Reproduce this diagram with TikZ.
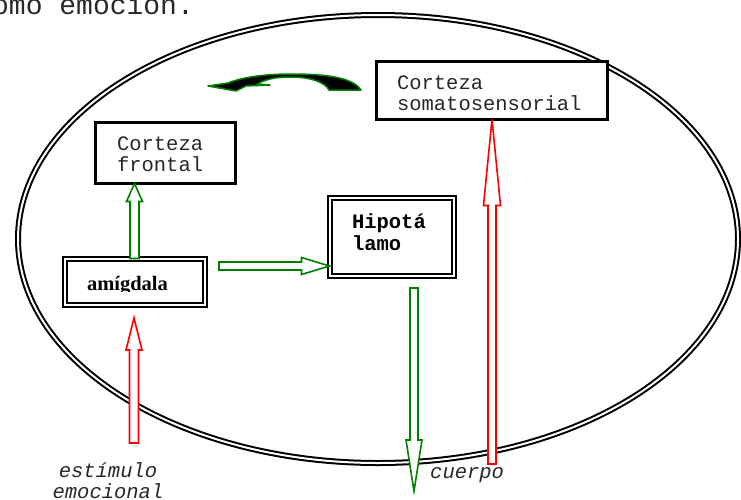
\documentclass[tikz,border=0pt]{standalone}
\usepackage{fontspec}
\setmainfont{Liberation Serif}
\setmonofont{Liberation Mono}
\usetikzlibrary{calc,shapes.geometric}

\definecolor{pathgreen}{RGB}{0,128,0}
\definecolor{pathred}{RGB}{255,0,0}
\definecolor{inkgray}{RGB}{40,40,40}

\tikzset{
  mono/.style={font=\ttfamily\fontsize{20.5}{21.5}\selectfont, text=inkgray},
  monobold/.style={font=\ttfamily\bfseries\fontsize{20.5}{22.5}\selectfont},
  monoit/.style={font=\ttfamily\itshape\fontsize{20.5}{21}\selectfont, text=inkgray},
  sbox/.style={rectangle, draw, line width=3pt, fill=white, outer sep=0pt,
    inner sep=0pt, align=left, mono},
  dbox/.style={rectangle, draw, line width=2pt, double=white, double distance=2pt,
    fill=white, outer sep=0pt, inner sep=0pt},
  garrow/.style={draw=pathgreen, fill=white, line width=1.6pt, line join=miter},
  rarrow/.style={draw=pathred, fill=white, line width=1.6pt, line join=miter},
  curvearrow/.style={draw=pathgreen, fill=black, line width=1.5pt, line join=round},
}

% hollow block arrow: #1 style, #2 tail, #3 tip, #4 shaft half width,
% #5 head half width, #6 head length
\newcommand\blockarrow[6]{%
  \path (#2) coordinate (ba-tail) (#3) coordinate (ba-tip);
  \path ($(ba-tip)!#6!(ba-tail)$) coordinate (ba-base);
  \draw[#1] ($(ba-tail)!#4!90:(ba-tip)$) -- ($(ba-base)!#4!90:(ba-tip)$)
    -- ($(ba-base)!#5!90:(ba-tip)$) -- (ba-tip)
    -- ($(ba-base)!#5!-90:(ba-tip)$) -- ($(ba-base)!#4!-90:(ba-tip)$)
    -- ($(ba-tail)!#4!-90:(ba-tip)$) -- cycle;
}

\begin{document}
\begin{tikzpicture}[x=1pt, y=-1pt]
\useasboundingbox (0,0) rectangle (741,499);

% end of the preceding sentence, cut by the page edge
\node[font=\ttfamily\fontsize{28}{28}\selectfont, text=inkgray, anchor=base west,
  inner sep=0pt] (caption) at (-8,14.5) {omo emoción.};

% the brain outline
\node[ellipse, draw, line width=2pt, double=white, double distance=2pt,
  minimum width=720pt, minimum height=448pt, inner sep=0pt] (brain) at (378,239) {};

% boxes (text height/depth place the first baseline inside each box)
\node[sbox, minimum width=231pt, minimum height=58pt, text width=190pt,
  text height=10pt, text depth=13pt]
  (soma) at (492,90.5) {Corteza\\somatosensorial};
\node[sbox, minimum width=140pt, minimum height=61pt, text width=97pt,
  text height=8pt, text depth=14pt]
  (front) at (165.5,153) {Corteza\\frontal};
\node[dbox, minimum width=140pt, minimum height=46pt] (amig) at (134.5,281.5) {};
\begin{scope}
  \clip (66,260) rectangle (203,291.5);
  \node[font=\bfseries\fontsize{20.5}{21}\selectfont, anchor=base, inner sep=0pt]
    (amigtext) at (127.5,290) {amígdala};
\end{scope}
\node[dbox, minimum width=124pt, minimum height=78pt, text width=79pt,
  text height=4pt, text depth=21pt, align=left, monobold]
  (hipo) at (391.5,236.5) {Hipotá\\lamo};

% outside labels
\node[monoit, align=center, anchor=north, inner sep=0pt] (stim) at (108,462)
  {estímulo\\emocional};
\node[monoit, anchor=base west, inner sep=0pt] (body) at (430,478) {cuerpo};

% connectors
\coordinate (frontin) at (amig.north |- front.south);
\coordinate (stimout) at (134,443);
\coordinate (amigin) at (134,318);
\coordinate (amigout) at (219,266);
\coordinate (hipoin) at (hipo.west |- amigout);
\coordinate (hipoout) at (414,288);
\coordinate (bodyin) at (414,491);
\coordinate (bodyout) at (492,464);

\blockarrow{garrow}{amig.north}{frontin}{4.5pt}{8pt}{18pt}
\blockarrow{rarrow}{stimout}{amigin}{4.5pt}{8pt}{32pt}
\blockarrow{garrow}{amigout}{hipoin}{4pt}{8.5pt}{28pt}
\blockarrow{garrow}{hipoout}{bodyin}{4pt}{8pt}{51pt}
\blockarrow{rarrow}{bodyout}{soma.south}{4pt}{8.5pt}{86pt}

% curved arrow from the somatosensory cortex back toward the frontal cortex
\path[curvearrow] (361,90)
  .. controls (352,76) and (320,74) .. (290,74)
  .. controls (262,74) and (240,78) .. (228,83)
  -- (208,86) -- (236,91) -- (246,86) -- (270,85) -- (257,84)
  .. controls (268,78) and (280,77) .. (290,77)
  .. controls (310,77) and (325,82) .. (329,90)
  -- cycle;
\end{tikzpicture}
\end{document}
